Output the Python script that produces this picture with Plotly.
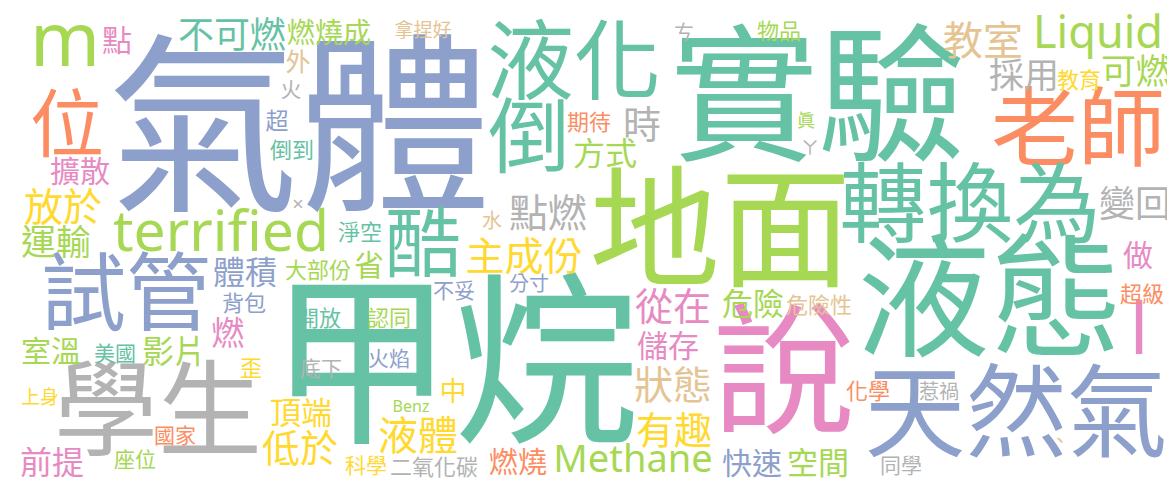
"""甲烷 液化 실험 문장 워드클라우드 재현"""
import plotly.graph_objects as go

# 색상 (Set2)
T, O, B, P = "#66c2a5", "#fc8d62", "#8da0cb", "#e78ac3"
L, Y, N, G = "#a6d854", "#ffd92f", "#e5c494", "#b3b3b3"

words = [
    "氣體", "實驗", "地面", "甲烷", "液態", "說", "學生", "天然氣", "液化", "倒",
    "老師", "轉換為", "試管", "terrified", "m", "位", "酷", "Liquid", "Methane", "主成份",
    "點燃", "時", "期待", "方式", "教室", "採用", "教育", "可燃", "物品", "ㄘ",
    "眞", "ㄚ", "不可燃", "點", "燃燒成", "拿捏好", "外", "火", "超", "倒到",
    "擴散", "放於", "運輸", "×", "體積", "大部份", "背包", "燃", "室溫", "美國",
    "影片", "歪", "上身", "前提", "座位", "國家", "頂端", "低於", "開放", "認同",
    "底下", "火焰", "中", "Benz", "液體", "科學", "二氧化碳", "燃燒", "淨空", "省",
    "水", "不妥", "分寸", "從在", "危險", "危險性", "儲存", "狀態", "有趣", "快速",
    "空間", "化學", "惹禍", "同學", "、", "l", "變回", "做", "超級",
]

# 단어 가중치(글자 크기)
weights = [
    192, 148, 131, 185, 133, 142, 104, 101, 87, 82,
    87, 87, 85, 57, 75, 74, 76, 45, 38, 39,
    39, 38, 22, 32, 40, 35, 22, 35, 22, 20,
    18, 18, 36, 30, 28, 19, 25, 21, 23, 22,
    30, 39, 35, 20, 32, 22, 22, 33, 30, 21,
    32, 22, 19, 32, 21, 21, 31, 38, 22, 22,
    21, 21, 27, 16, 40, 21, 22, 29, 22, 30,
    20, 21, 20, 38, 31, 22, 31, 39, 38, 30,
    31, 22, 20, 21, 20, 72, 36, 30, 22,
]

colors = [
    B, T, L, T, T, P, G, B, T, T,
    O, T, B, L, L, O, T, L, L, Y,
    G, G, O, L, N, G, Y, L, L, G,
    L, G, T, P, L, N, N, G, B, T,
    P, Y, L, G, B, L, B, P, L, T,
    L, Y, Y, P, L, O, Y, Y, T, L,
    G, B, Y, L, Y, Y, G, O, T, L,
    N, B, B, P, L, N, P, N, Y, B,
    L, O, G, G, N, P, G, P, O,
]

# 배치 위치 (가로, 세로)
pos_x = [
    291, 810, 712, 446, 982, 776, 150, 1008, 566, 521,
    1070, 962, 118, 213, 57, 59, 415, 1090, 625, 516,
    540, 634, 581, 597, 975, 1016, 1071, 1128, 771, 676,
    798, 802, 224, 109, 321, 415, 290, 283, 269, 284,
    72, 55, 48, 290, 237, 310, 236, 220, 43, 107,
    166, 243, 32, 44, 127, 167, 293, 292, 311, 381,
    313, 381, 445, 403, 410, 358, 426, 510, 352, 361,
    484, 446, 521, 665, 745, 811, 660, 665, 666, 744,
    810, 860, 931, 893, 1052, 1131, 1127, 1130, 1134,
]
pos_y = [
    140, 104, 235, 375, 305, 378, 414, 416, 63, 137,
    130, 206, 295, 229, 39, 124, 244, 29, 454, 252,
    209, 120, 116, 149, 37, 71, 74, 67, 25, 27,
    114, 141, 31, 35, 28, 24, 57, 84, 115, 144,
    166, 203, 238, 198, 268, 264, 297, 329, 346, 348,
    347, 362, 391, 458, 454, 430, 408, 444, 312, 312,
    363, 353, 386, 400, 432, 460, 461, 458, 226, 260,
    215, 285, 278, 302, 299, 299, 341, 381, 426, 458,
    458, 385, 386, 460, 435, 328, 200, 250, 288,
]

fig = go.Figure(
    go.Scatter(
        x=pos_x,
        y=pos_y,
        text=words,
        mode="text",
        textposition="middle center",
        textfont=dict(size=weights, color=colors, family="Noto Sans, Noto Sans CJK TC"),
        hoverinfo="text",
    )
)

fig.update_xaxes(range=[0, 1175], visible=False)
fig.update_yaxes(range=[482, 0], visible=False)
fig.update_layout(
    width=1175,
    height=482,
    margin=dict(l=0, r=0, t=0, b=0),
    paper_bgcolor="white",
    plot_bgcolor="white",
    showlegend=False,
)

fig.write_html("out.html")
